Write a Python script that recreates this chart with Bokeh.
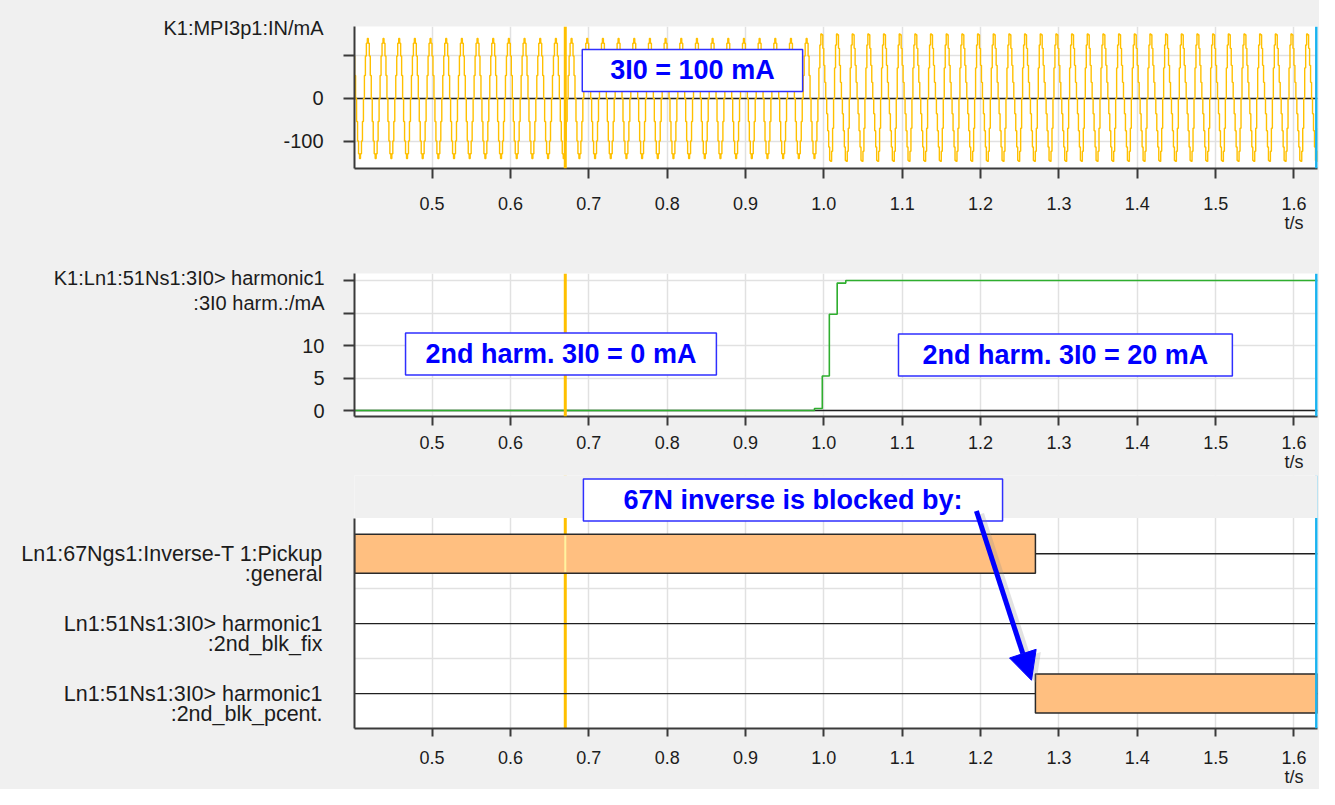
import numpy as np
from bokeh.plotting import figure
from bokeh.models import (Label, Span, Arrow, NormalHead, FixedTicker, Range1d,
                          ColumnDataSource, BoxAnnotation)
from bokeh.layouts import column
from bokeh.embed import file_html
from bokeh.resources import INLINE

# ------------------------------------------------------------------ data
X_RANGE = [0.401, 1.630]
TIME_TICKS = [0.5, 0.6, 0.7, 0.8, 0.9, 1.0, 1.1, 1.2, 1.3, 1.4, 1.5, 1.6]
TIME_TICK_LABELS = ["0.5", "0.6", "0.7", "0.8", "0.9", "1.0", "1.1", "1.2", "1.3", "1.4", "1.5", "1.6"]
TIME_UNIT = "t/s"
CURSOR_T = 0.670
END_T = 1.6288

IN_NAME = "K1:MPI3p1:IN/mA"
FREQ_HZ = 50.0
WAVE_T0 = 0.3924
HARMONIC_ON_T = 0.99
CYCLE_BEFORE = [0, 54, 100, 130, 141, 130, 100, 54, 0, -54, -100, -130, -141, -130, -100, -54]
CYCLE_AFTER = [0, 72, 126, 152, 150, 118, 78, 38, 0, -36, -76, -114, -146, -148, -124, -70]
IN_TICKS = [-100, 0, 100]
IN_TICK_LABELS = ["-100", "0", ""]
IN_Y_RANGE = [-164.7, 169.4]

# panel 2 : 2nd harmonic of 3I0 (mA)
HARM_NAME = ["K1:Ln1:51Ns1:3I0> harmonic1", ":3I0 harm.:/mA"]
HARM_T = [0.401, 0.988, 0.998, 1.007, 1.017, 1.028, 1.630]
HARM_V = [0.0, 0.3, 5.3, 14.8, 19.6, 20.0, 20.0]
HARM_TICKS = [0, 5, 10, 15, 20]
HARM_TICK_LABELS = ["0", "5", "10", "", ""]
HARM_Y_RANGE = [-0.92, 21.08]

# panel 3 : binary signals
SIGNAL_LINE1 = ["Ln1:67Ngs1:Inverse-T 1:Pickup", "Ln1:51Ns1:3I0> harmonic1", "Ln1:51Ns1:3I0> harmonic1"]
SIGNAL_LINE2 = [":general", ":2nd_blk_fix", ":2nd_blk_pcent."]
SIGNAL_ROWS = [3, 2, 1]
BAR_ROW = [3, 1]
BAR_START = [0.401, 1.270]
BAR_END = [1.270, 1.630]
SIG_Y_RANGE = [0.5, 3.5]

# annotations
NOTE_TEXT = ["3I0 = 100 mA", "2nd harm. 3I0 = 0 mA", "2nd harm. 3I0 = 20 mA", "67N inverse is blocked by:"]
NOTE_T = [0.8323, 0.6645, 1.3083, 0.9606]
NOTE_Y = [65.9, 8.69, 8.54, 3.768]
ARROW_FROM = (1.1947, 3.61)
ARROW_TO = (1.265, 1.19)

# ------------------------------------------------------------------ styles
FONT = "Liberation Sans"
TXT = "#1c1c1c"
GRID = "#e1e1e1"
AXIS = "#3a3a3a"
BG = "#f0f0f0"
AMBER = "#FFC000"
CYAN = "#1ab3f0"
BLUE = "#0000ff"
W = 1319
LEFT = 354
RIGHT = 2


def make_fig(height, top, bottom, y_range):
    return figure(width=W, height=height, x_range=Range1d(*X_RANGE), y_range=Range1d(*y_range),
                  output_backend="svg", toolbar_location=None, title=None,
                  min_border_left=LEFT, min_border_right=RIGHT,
                  min_border_top=top, min_border_bottom=bottom,
                  background_fill_color="white", border_fill_color=BG, outline_line_color=None)


def style_x(p, tick_out, standoff):
    xa = p.xaxis[0]
    tk = FixedTicker(ticks=TIME_TICKS)
    xa.ticker = tk
    labels = list(TIME_TICK_LABELS)
    labels[-1] = labels[-1] + "\n" + TIME_UNIT
    xa.major_label_overrides = {t: l for t, l in zip(TIME_TICKS, labels)}
    xa.major_tick_out = tick_out
    xa.major_tick_in = 0
    xa.minor_tick_line_color = None
    xa.major_tick_line_color = AXIS
    xa.major_tick_line_width = 2
    xa.axis_line_color = AXIS
    xa.axis_line_width = 2
    xa.major_label_standoff = standoff
    xa.major_label_text_font = FONT
    xa.major_label_text_font_size = "18px"
    xa.major_label_text_line_height = 0.95
    xa.major_label_text_color = TXT
    p.xgrid.ticker = tk
    p.xgrid.grid_line_color = GRID
    p.xgrid.grid_line_width = 1.5


def style_y(p, label_ticks, label_texts, mark_ticks, grid_ticks, standoff, size="20px"):
    ya = p.yaxis[0]
    ya.ticker = FixedTicker(ticks=label_ticks, minor_ticks=mark_ticks)
    ya.major_label_overrides = {t: l for t, l in zip(label_ticks, label_texts)}
    ya.major_tick_out = 0
    ya.major_tick_in = 0
    ya.major_tick_line_color = None
    ya.minor_tick_out = 11 if mark_ticks else 0
    ya.minor_tick_in = 0
    ya.minor_tick_line_color = AXIS
    ya.minor_tick_line_width = 2
    ya.axis_line_color = AXIS
    ya.axis_line_width = 2
    ya.major_label_standoff = standoff
    ya.major_label_text_font = FONT
    ya.major_label_text_font_size = size
    ya.major_label_text_color = TXT
    p.ygrid.ticker = FixedTicker(ticks=grid_ticks)
    p.ygrid.grid_line_color = GRID
    p.ygrid.grid_line_width = 1.5


def note(p, i, padx):
    p.add_layout(Label(x=NOTE_T[i], y=NOTE_Y[i], text=NOTE_TEXT[i], text_font=FONT,
                       text_font_style="bold", text_font_size="27px", text_color=BLUE,
                       text_align="center", text_baseline="middle",
                       background_fill_color="white", border_line_color="#2f2fff",
                       border_line_width=1.5, padding=dict(x=padx, y=6)))


def markers(p):
    p.add_layout(Span(location=CURSOR_T, dimension="height", line_color=AMBER, line_width=3))
    p.add_layout(Span(location=END_T, dimension="height", line_color=CYAN, line_width=3))


# ------------------------------------------------------------------ panel 1
spc = len(CYCLE_BEFORE)
dt = 1.0 / (FREQ_HZ * spc)
n_cycles = int(np.ceil((X_RANGE[1] - WAVE_T0) * FREQ_HZ)) + 1
wt, wv = [], []
for c in range(n_cycles):
    tc = WAVE_T0 + c / FREQ_HZ
    cyc = CYCLE_AFTER if tc >= HARMONIC_ON_T else CYCLE_BEFORE
    for k, v in enumerate(cyc):
        wt.append(tc + k * dt)
        wv.append(v)

p1 = make_fig(250, 26, 82, IN_Y_RANGE)
style_x(p1, 10, 15)
px1 = (IN_Y_RANGE[1] - IN_Y_RANGE[0]) / 142.0
name1_y = IN_Y_RANGE[1] - 1.5 * px1
style_y(p1, [IN_TICKS[0], IN_TICKS[1], name1_y], [IN_TICK_LABELS[0], IN_TICK_LABELS[1], IN_NAME],
        IN_TICKS, IN_TICKS, 20)
p1.line(x=X_RANGE, y=[0, 0], line_color="#202020", line_width=1.5)
p1.step(x=wt, y=wv, mode="after", line_color=AMBER, line_width=1.4)
markers(p1)
note(p1, 0, 28)

# ------------------------------------------------------------------ panel 2
p2 = make_fig(225, 23, 59, HARM_Y_RANGE)
style_x(p2, 9, 7)
px2 = (HARM_Y_RANGE[1] - HARM_Y_RANGE[0]) / 143.0
name2_y = [HARM_Y_RANGE[1] - 4 * px2, HARM_Y_RANGE[1] - 29 * px2]
style_y(p2, HARM_TICKS[:3] + name2_y, HARM_TICK_LABELS[:3] + HARM_NAME,
        HARM_TICKS, HARM_TICKS, 19)
p2.line(x=X_RANGE, y=[0, 0], line_color="#202020", line_width=1.5)
p2.step(x=HARM_T, y=HARM_V, mode="after", line_color="#2fae2f", line_width=1.6)
markers(p2)
note(p2, 1, 20)
note(p2, 2, 24)

# ------------------------------------------------------------------ panel 3
px3 = (SIG_Y_RANGE[1] - SIG_Y_RANGE[0]) / 218.0
sig_top = SIG_Y_RANGE[1] + 45 * px3          # frame extends up to hold the note box
p3 = make_fig(314, 0, 51, [SIG_Y_RANGE[0], sig_top])
style_x(p3, 8, 11)
row_ticks, row_texts = [], []
for r, l1, l2 in zip(SIGNAL_ROWS, SIGNAL_LINE1, SIGNAL_LINE2):
    row_ticks += [r, r - 21.5 * px3]
    row_texts += [l1, l2]
style_y(p3, row_ticks, row_texts, [], [1.5, 2.5], 32, size="21.5px")
p3.yaxis[0].bounds = tuple(SIG_Y_RANGE)

p3.add_layout(Span(location=CURSOR_T, dimension="height", line_color=AMBER, line_width=3, level="underlay"))
rows = ColumnDataSource(dict(x0=[X_RANGE[0]] * len(SIGNAL_ROWS), x1=[X_RANGE[1]] * len(SIGNAL_ROWS),
                             y=SIGNAL_ROWS))
p3.segment(x0="x0", x1="x1", y0="y", y1="y", source=rows, line_color="#202020", line_width=1.3)
half = 0.28
bars = ColumnDataSource(dict(left=BAR_START, right=BAR_END,
                             bottom=[r - half for r in BAR_ROW], top=[r + half for r in BAR_ROW]))
p3.quad(left="left", right="right", bottom="bottom", top="top", source=bars,
        fill_color="#FFBF80", line_color="#2a2a2a", line_width=1.5)
p3.segment(x0=[CURSOR_T], x1=[CURSOR_T], y0=[BAR_ROW[0] - half + 0.02], y1=[BAR_ROW[0] + half - 0.02],
           line_color="#FFF3A0", line_width=2)
p3.add_layout(Span(location=END_T, dimension="height", line_color=CYAN, line_width=3))
# grey strip above the signal area (part of the frame used for the note box)
p3.add_layout(BoxAnnotation(left=X_RANGE[0] - 0.02, right=X_RANGE[1] + 0.02,
                            bottom=SIG_Y_RANGE[1] + 0.01, top=sig_top + 1.0,
                            fill_color=BG, fill_alpha=1.0, line_color=None))

note(p3, 3, 40)
p3.add_layout(Arrow(end=NormalHead(size=28, fill_color="#8a8a8a", line_color="#8a8a8a",
                                   fill_alpha=0.25, line_alpha=0.0),
                    x_start=ARROW_FROM[0] + 0.006, y_start=ARROW_FROM[1] - 0.04,
                    x_end=ARROW_TO[0] + 0.006, y_end=ARROW_TO[1] - 0.04,
                    line_color="#8a8a8a", line_alpha=0.25, line_width=6))
p3.add_layout(Arrow(end=NormalHead(size=28, fill_color=BLUE, line_color=BLUE, line_width=1),
                    x_start=ARROW_FROM[0], y_start=ARROW_FROM[1],
                    x_end=ARROW_TO[0], y_end=ARROW_TO[1],
                    line_color=BLUE, line_width=5))

layout = column(p1, p2, p3, spacing=0, styles={"background-color": BG})
with open("out.html", "w") as f:
    f.write(file_html(layout, INLINE))
